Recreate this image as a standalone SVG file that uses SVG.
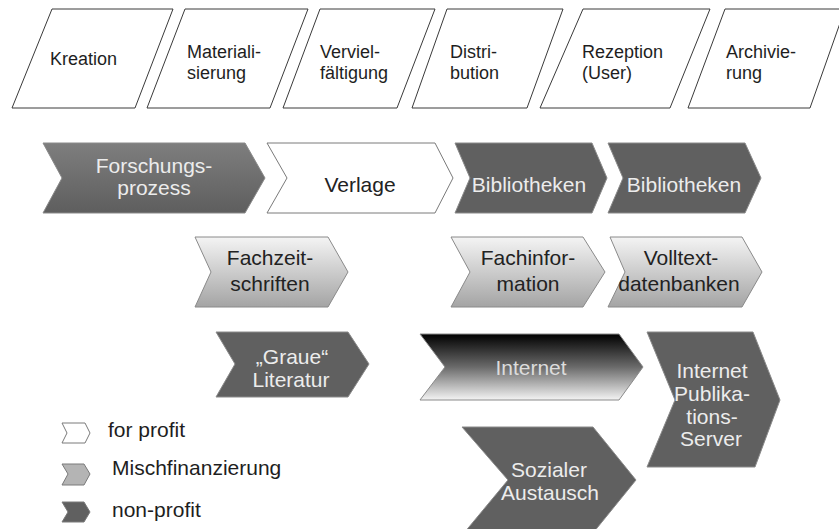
<svg xmlns="http://www.w3.org/2000/svg" width="839" height="529" viewBox="0 0 839 529">
<defs>
<linearGradient id="gLight" x1="0" y1="0" x2="0" y2="1">
<stop offset="0" stop-color="#f4f4f4"/>
<stop offset="1" stop-color="#a4a4a4"/>
</linearGradient>
<linearGradient id="gForsch" x1="0" y1="0" x2="0" y2="1">
<stop offset="0" stop-color="#7e7e7e"/>
<stop offset="1" stop-color="#5e5e5e"/>
</linearGradient>
<linearGradient id="gNet" x1="0" y1="0" x2="0" y2="1">
<stop offset="0" stop-color="#000000"/>
<stop offset="0.5" stop-color="#6a6a6a"/>
<stop offset="1" stop-color="#f4f4f4"/>
</linearGradient>
</defs>
<style>
text{font-family:"Liberation Sans",Arial,sans-serif;}
.para{fill:#ffffff;stroke:#3a3a3a;stroke-width:1;}
.top{font-size:18px;fill:#1e1e1e;}
.lbl{font-size:21px;text-anchor:middle;}
.dk{fill:#606060;stroke:#8a8a8a;stroke-width:1;}
.lt{fill:url(#gLight);stroke:#8a8a8a;stroke-width:1;}
.wh{fill:#ffffff;stroke:#7a7a7a;stroke-width:1;}
.tl{fill:#ececec;}
.td{fill:#222222;}
.leg{font-size:21px;fill:#1e1e1e;}
</style>

<g id="kreation">
<polygon class="para" points="52,9 173,9 135,108 12,108"/>
<text class="top" x="50" y="65">Kreation</text>
</g>
<g id="materialisierung">
<polygon class="para" points="185,9 308,9 270,108 147,108"/>
<text class="top" x="187" y="58">Materiali-</text>
<text class="top" x="187" y="79">sierung</text>
</g>
<g id="vervielfaeltigung">
<polygon class="para" points="320,9 435,9 397,108 283,108"/>
<text class="top" x="320" y="58">Verviel-</text>
<text class="top" x="320" y="79">fältigung</text>
</g>
<g id="distribution">
<polygon class="para" points="447,9 563,9 527,108 412,108"/>
<text class="top" x="450" y="58">Distri-</text>
<text class="top" x="450" y="79">bution</text>
</g>
<g id="rezeption">
<polygon class="para" points="583,9 710,9 670,108 540,108"/>
<text class="top" x="582" y="58">Rezeption</text>
<text class="top" x="582" y="79">(User)</text>
</g>
<g id="archivierung">
<polygon class="para" points="725,9 845,9 810,108 688,108"/>
<text class="top" x="726" y="58">Archivie-</text>
<text class="top" x="726" y="79">rung</text>
</g>

<g id="forschungsprozess">
<polygon points="43,143 245,143 265,178 245,213 43,213 62,178" fill="url(#gForsch)" stroke="#8a8a8a"/>
<text class="lbl tl" x="154" y="173">Forschungs-</text>
<text class="lbl tl" x="154" y="195">prozess</text>
</g>
<g id="verlage">
<polygon class="wh" points="267,143 435,143 453,178 435,213 267,213 287,178"/>
<text class="lbl td" x="360" y="192">Verlage</text>
</g>
<g id="bibliotheken1">
<polygon class="dk" points="455,143 592,143 607,178 592,213 455,213 470,178"/>
<text class="lbl tl" x="529" y="192">Bibliotheken</text>
</g>
<g id="bibliotheken2">
<polygon class="dk" points="608,143 745,143 761,178 745,213 608,213 623,178"/>
<text class="lbl tl" x="684" y="192">Bibliotheken</text>
</g>

<g id="fachzeitschriften">
<polygon class="lt" points="195,237 328,237 348,272 328,307 195,307 211,272"/>
<text class="lbl td" x="270" y="265">Fachzeit-</text>
<text class="lbl td" x="270" y="291">schriften</text>
</g>
<g id="fachinformation">
<polygon class="lt" points="451,237 583,237 605,272 583,307 451,307 470,272"/>
<text class="lbl td" x="528" y="265">Fachinfor-</text>
<text class="lbl td" x="528" y="291">mation</text>
</g>
<g id="volltextdatenbanken">
<polygon class="lt" points="610,237 742,237 762,272 742,307 608,307 625,272"/>
<text class="lbl td" x="681" y="265">Volltext-</text>
<text class="lbl td" x="679" y="291">datenbanken</text>
</g>

<g id="graue-literatur">
<polygon class="dk" points="216,332 348,332 369,364 348,397 216,397 235,364"/>
<text class="lbl tl" x="292" y="364">„Graue“</text>
<text class="lbl tl" x="291" y="387">Literatur</text>
</g>
<g id="internet">
<polygon points="420,334 619,334 643,367 619,400 420,400 445,367" fill="url(#gNet)" stroke="#8a8a8a"/>
<text class="lbl" x="531" y="375" fill="#dcdcdc">Internet</text>
</g>
<g id="internet-publikationsserver">
<polygon class="dk" points="647,332 753,332 780,400 755,467 647,467 675,400"/>
<text class="lbl tl" x="712" y="378">Internet</text>
<text class="lbl tl" x="712" y="401">Publika-</text>
<text class="lbl tl" x="712" y="424">tions-</text>
<text class="lbl tl" x="711" y="446">Server</text>
</g>
<g id="sozialer-austausch">
<polygon class="dk" points="462,427 593,427 636,480 593,533 464,533 508,480"/>
<text class="lbl tl" x="549" y="477">Sozialer</text>
<text class="lbl tl" x="550" y="500">Austausch</text>
</g>

<g id="connectors"></g>

<g id="legend">
<polygon points="62,423 85,423 90,433 85,443 62,443 67,433" fill="#ffffff" stroke="#7a7a7a"/>
<text class="leg" x="108" y="437">for profit</text>
<polygon points="62,464 84,464 90,474 84,485 62,485 68,474" fill="#b4b4b4" stroke="#7a7a7a"/>
<text class="leg" x="112" y="475">Mischfinanzierung</text>
<polygon points="62,502 84,502 90,512 84,522 62,522 68,512" fill="#606060" stroke="#7a7a7a"/>
<text class="leg" x="112" y="517">non-profit</text>
</g>
</svg>
